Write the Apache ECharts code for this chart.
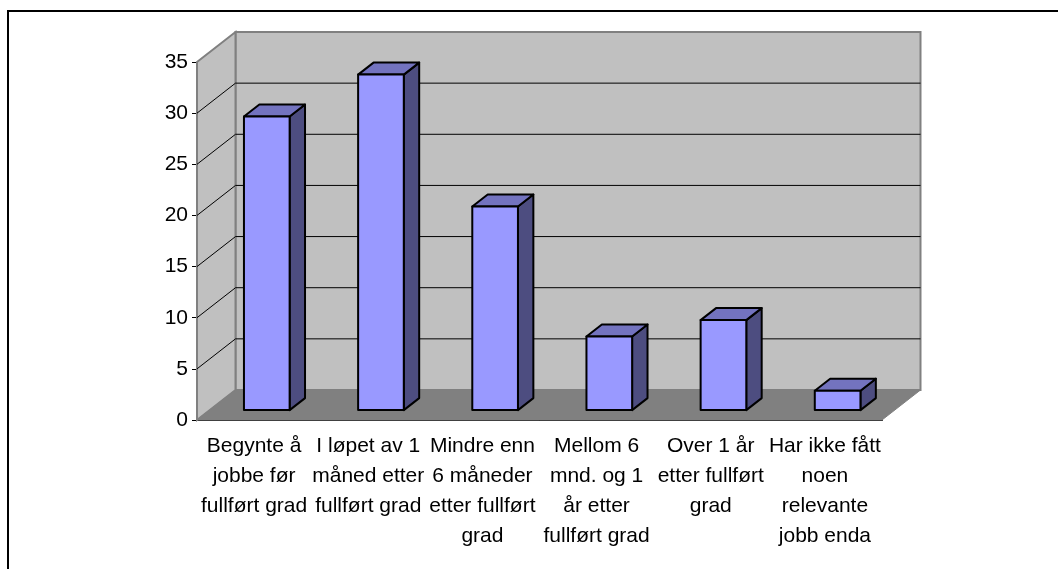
<!DOCTYPE html>
<html>
<head>
<meta charset="utf-8">
<script src="https://cdn.jsdelivr.net/npm/echarts@6/dist/echarts.min.js"></script>
<style>
  html, body { margin: 0; padding: 0; background: #fff; }
  #chart { width: 1058px; height: 569px; }
</style>
</head>
<body>
<div id="chart"></div>
<script>
const categories = [
  'Begynte å\njobbe før\nfullført grad',
  'I løpet av 1\nmåned etter\nfullført grad',
  'Mindre enn\n6 måneder\netter fullført\ngrad',
  'Mellom 6\nmnd. og 1\når etter\nfullført grad',
  'Over 1 år\netter fullført\ngrad',
  'Har ikke fått\nnoen\nrelevante\njobb enda'
]
const values = [28.7, 32.8, 19.9, 7.2, 8.8, 1.9]
const yTicks = [0, 5, 10, 15, 20, 25, 30, 35]

// skew of the fake 3D box, in pixels
const depthX = 38.5
const depthY = -30
const barStart = 0.33
const barEnd = 0.73
const barWidth = 0.4

const shift = (p, d) => [p[0] + depthX * d, p[1] + depthY * d]

// back wall, side wall, floor and gridlines
const renderBox = (params, api) => {
  const left = params.coordSys.x
  const right = left + params.coordSys.width
  const y0 = api.coord([0, 0])[1]
  const y1 = api.coord([0, 35])[1]
  const edge = { stroke: '#808080', lineWidth: 2 }
  const children = [
    { type: 'polygon', shape: { points: [shift([left, y1], 1), shift([right, y1], 1), shift([right, y0], 1), shift([left, y0], 1)] }, style: { fill: '#c0c0c0', ...edge } },
    { type: 'polygon', shape: { points: [[left, y1], shift([left, y1], 1), shift([left, y0], 1), [left, y0]] }, style: { fill: '#c0c0c0', ...edge } },
    { type: 'polygon', shape: { points: [[left, y0], shift([left, y0], 1), shift([right, y0], 1), [right, y0]] }, style: { fill: '#808080', stroke: '#808080', lineWidth: 1 } }
  ]
  yTicks.forEach(t => {
    if (t === 0 || t === 35) return
    const y = api.coord([0, t])[1]
    children.push({
      type: 'polyline',
      shape: { points: [[left, y], shift([left, y], 1), shift([right, y], 1)] },
      style: { fill: null, stroke: '#000', lineWidth: 1 }
    })
  })
  return { type: 'group', children }
}

const renderBar = (params, api) => {
  const idx = api.value(0)
  const base = api.coord([idx, 0])
  const top = api.coord([idx, api.value(1)])
  const half = api.size([1, 0])[0] * barWidth / 2
  const fl = shift([base[0] - half, top[1]], barStart)
  const fr = shift([base[0] + half, top[1]], barStart)
  const br = shift([base[0] + half, base[1]], barStart)
  const bl = shift([base[0] - half, base[1]], barStart)
  const dd = barEnd - barStart
  const stroke = { stroke: '#000', lineWidth: 2, lineJoin: 'round' }
  return {
    type: 'group',
    children: [
      { type: 'polygon', shape: { points: [fr, shift(fr, dd), shift(br, dd), br] }, style: { fill: '#4d4d80', ...stroke } },
      { type: 'polygon', shape: { points: [fl, shift(fl, dd), shift(fr, dd), fr] }, style: { fill: '#7373bf', ...stroke } },
      { type: 'polygon', shape: { points: [fl, fr, br, bl] }, style: { fill: '#9999ff', ...stroke } }
    ]
  }
}

const chart = echarts.init(document.getElementById('chart'))
const option = {
  animation: false,
  textStyle: { fontFamily: 'Liberation Sans' },
  grid: { left: 197, top: 62, width: 685, height: 358 },
  xAxis: {
    type: 'category',
    data: categories,
    axisLine: { lineStyle: { color: '#000', width: 2 } },
    axisTick: { length: 6, lineStyle: { color: '#000', width: 1 } },
    axisLabel: { interval: 0, color: '#000', fontSize: 21, lineHeight: 30, margin: 11, hideOverlap: false }
  },
  yAxis: {
    type: 'value',
    min: 0,
    max: 35,
    interval: 5,
    axisLine: { show: true, lineStyle: { color: '#808080', width: 1 } },
    axisTick: { show: true, length: 5, lineStyle: { color: '#000', width: 1 } },
    axisLabel: { color: '#000', fontSize: 21, margin: 9 },
    splitLine: { show: false }
  },
  graphic: [{
    type: 'polyline',
    shape: { points: [[8, 569], [8, 11], [1058, 11]] },
    style: { fill: null, stroke: '#000', lineWidth: 2 }
  }],
  series: [
    { type: 'custom', z: 1, silent: true, renderItem: renderBox, data: [[0, 0]], encode: { x: 0, y: 1 } },
    { type: 'custom', z: 2, renderItem: renderBar, data: values.map((v, i) => [i, v]), encode: { x: 0, y: 1 } }
  ]
}
chart.setOption(option)
</script>
</body>
</html>
